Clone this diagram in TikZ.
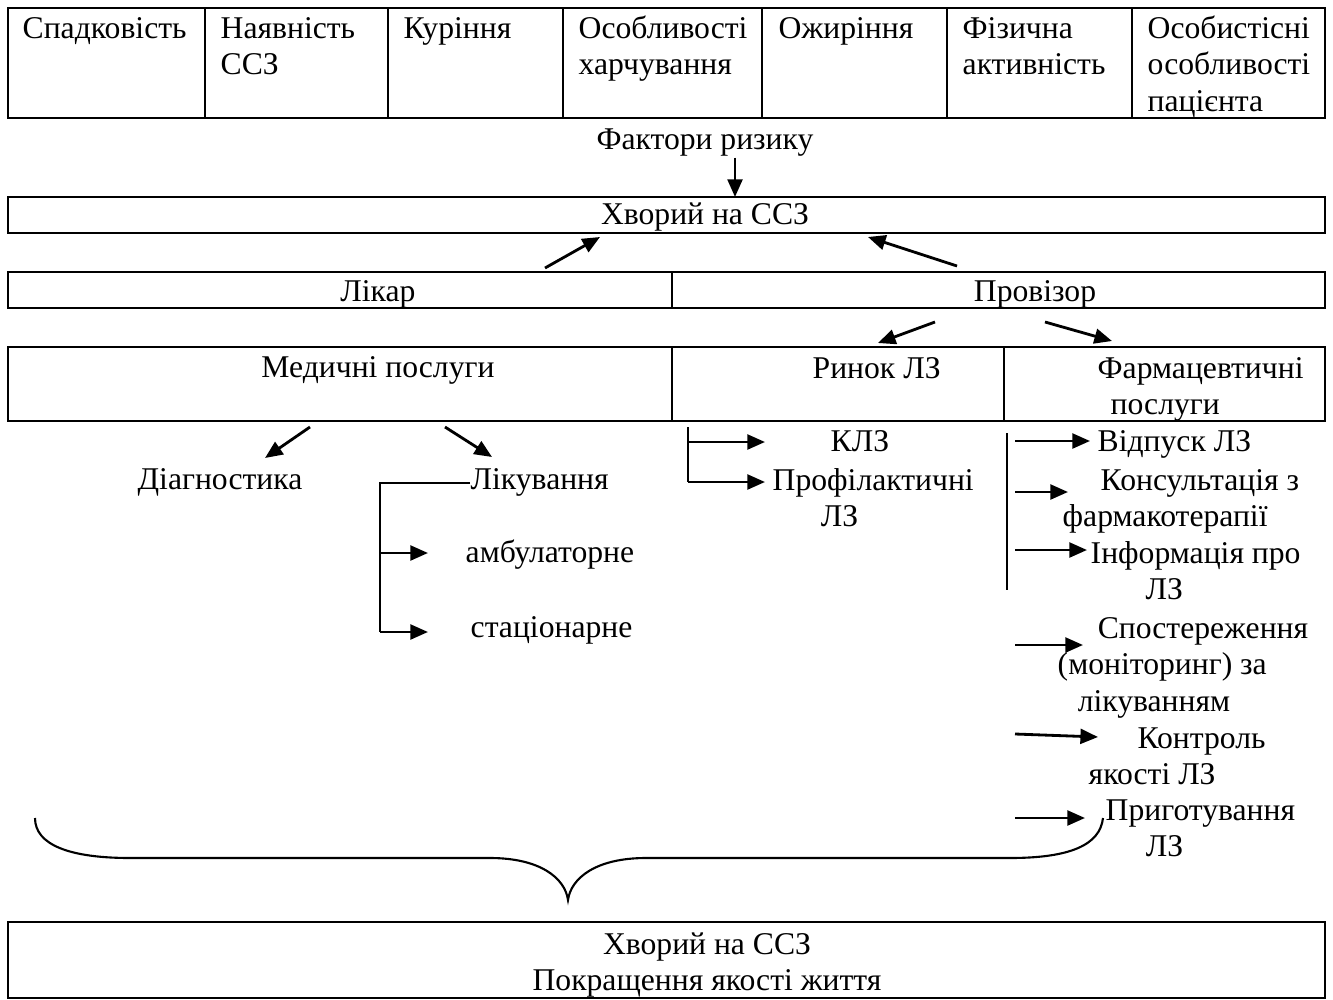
\documentclass[tikz,border=0pt]{standalone}
\usepackage{fontspec}
\setmainfont{Liberation Serif}
\usetikzlibrary{arrows.meta}
\tikzset{
  cell/.style={anchor=north west,inner sep=0pt,align=left,yshift=-0.85pt},
  lbl/.style={anchor=base,inner sep=0pt,yshift=-0.85pt},
  lblw/.style={anchor=base west,inner sep=0pt,yshift=-0.85pt},
  frame/.style={line width=0.8pt},
  arr/.style={-{Triangle[length=5pt,width=4.2pt]},line width=0.8pt},
}
\begin{document}
\begin{tikzpicture}[x=0.01cm,y=-0.01cm,font=\fontsize{9}{10.4}\selectfont]
\useasboundingbox (0,0) rectangle (1333,1000);
% фактори ризику
\draw[frame] (8,8) rectangle (1325,118);
\foreach \xx in {205,388,563,762,947,1132}
  \draw[frame] (\xx,8) -- (\xx,118);
\node[cell] (spad) at (22,9) {\strut Спадковість};
\node[cell] (nayav) at (220,9) {\strut Наявність\\ССЗ};
\node[cell] (kur) at (403,9) {\strut Куріння};
\node[cell] (harch) at (578,9) {\strut Особливості\\харчування};
\node[cell] (ozhyr) at (778,9) {\strut Ожиріння};
\node[cell] (fiz) at (962,9) {\strut Фізична\\активність};
\node[cell] (osob) at (1147,9) {\strut Особистісні\\особливості\\пацієнта};
\node[lbl] (risk) at (705,147) {Фактори ризику};

% хворий
\draw[frame] (8,197) rectangle (1325,233);
\node[lbl] (patient) at (705,222) {Хворий на ССЗ};
\coordinate (p0) at (735,197);
\draw[arr] (risk.south -| p0) -- (p0);

% лікар / провізор
\draw[frame] (8,272) rectangle (1325,308);
\draw[frame] (672,272) -- (672,308);
\node[lbl] (likar) at (378,299) {Лікар};
\node[lbl] (proviz) at (1035,299) {Провізор};
\coordinate (a1) at (545,268); \coordinate (a2) at (600,237);
\coordinate (b1) at (957,266); \coordinate (b2) at (868,237);
\draw[arr] (a1) -- (a2);
\draw[arr] (b1) -- (b2);

% послуги
\draw[frame] (8,347) rectangle (1325,421);
\draw[frame] (672,347) -- (672,421);
\draw[frame] (1004,347) -- (1004,421);
\node[lbl] (medp) at (378,375) {Медичні послуги};
\node[cell] (rynok) at (812,349) {\strut Ринок ЛЗ};
\node[cell] (farmp) at (1097,349) {\strut Фармацевтичні\\\hspace*{3.7pt}послуги};
\coordinate (c1) at (935,322); \coordinate (c2) at (878,343);
\coordinate (d1) at (1045,322); \coordinate (d2) at (1112,341);
\draw[arr] (c1) -- (c2);
\draw[arr] (d1) -- (d2);

% медичні послуги
\coordinate (e1) at (310,427); \coordinate (e2) at (265,458);
\coordinate (g1) at (445,427); \coordinate (g2) at (492,457);
\draw[arr] (e1) -- (e2);
\draw[arr] (g1) -- (g2);
\node[lbl] (diag) at (220,487) {Діагностика};
\node[lblw] (likuv) at (470,487) {Лікування};
\node[lblw] (amb) at (465,560) {амбулаторне};
\node[lblw] (stac) at (470,635) {стаціонарне};
\coordinate (t1) at (380,632);
\coordinate (t0) at (likuv.west -| t1);
\coordinate (t2) at (380,553);
\coordinate (u1) at (428,553); \coordinate (u2) at (428,632);
\draw[frame] (likuv.west) -- (t0) -- (t1);
\draw[arr] (t2) -- (u1);
\draw[arr] (t1) -- (u2);

% ринок ЛЗ
\node[lblw] (klz) at (830,449) {КЛЗ};
\node[cell] (profil) at (772,461) {\strut Профілактичні\\\hspace*{13.7pt}ЛЗ};
\coordinate (r0) at (688,427); \coordinate (r1) at (688,442);
\coordinate (r2) at (688,482);
\coordinate (s1) at (765,442); \coordinate (s2) at (765,482);
\draw[frame] (r0) -- (r2);
\draw[arr] (r1) -- (s1);
\draw[arr] (r2) -- (s2);

% фармацевтичні послуги
\node[lblw] (vidp) at (1097,449) {Відпуск ЛЗ};
\node[cell] (kons) at (1062,461) {\strut\hspace*{10.8pt}Консультація з\\фармакотерапії};
\node[cell] (inf) at (1090,534) {\strut Інформація про\\\hspace*{15.6pt}ЛЗ};
\node[cell] (spost) at (1057,609) {\strut\hspace*{11.4pt}Спостереження\\(моніторинг) за\\\hspace*{5.7pt}лікуванням};
\node[cell] (kontr) at (1088,719) {\strut\hspace*{13.9pt}Контроль\\якості ЛЗ};
\node[cell] (prig) at (1105,791) {\strut Приготування\\\hspace*{11.4pt}ЛЗ};
\coordinate (v0) at (1007,433); \coordinate (v1) at (1007,590);
\draw[frame] (v0) -- (v1);
\foreach \ya/\xb/\yb [count=\i] in {441/1090/441,492/1068/492,550/1087/550,645/1083/645,734/1098/737,818/1085/818}{
  \coordinate (w\i) at (1015,\ya);
  \coordinate (z\i) at (\xb,\yb);
  \draw[arr] (w\i) -- (z\i);
}

% дужка
\draw[line width=0.6pt] (35,818) .. controls (35,845) and (70,858) .. (130,858)
  -- (490,858) .. controls (540,858) and (565,878) .. (568,900)
  .. controls (571,878) and (596,858) .. (646,858)
  -- (1010,858) .. controls (1070,858) and (1100,845) .. (1103,818);

% результат
\draw[frame] (8,922) rectangle (1325,998);
\node[anchor=north,inner sep=0pt,align=center,yshift=-1.1pt] (result) at (707,924) {\strut Хворий на ССЗ\\Покращення якості життя};
\end{tikzpicture}
\end{document}
